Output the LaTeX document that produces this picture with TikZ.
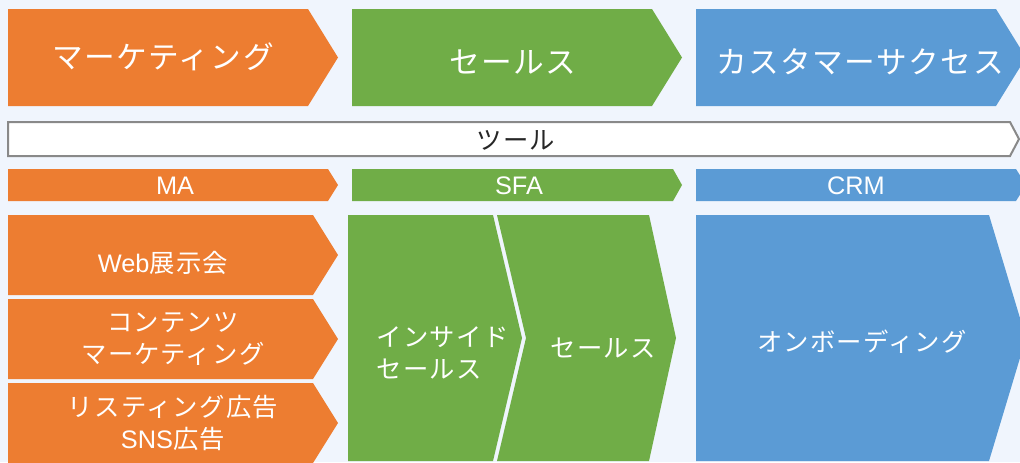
\documentclass[tikz,border=0pt]{standalone}
\usepackage{fontspec}
\setmainfont[LetterSpace=5]{Noto Sans CJK JP}
\newfontfamily\latinfont{Liberation Sans}
\usepackage{xcolor}
\usepackage{tikz}
\definecolor{mkorange}{HTML}{ED7D31}
\definecolor{slgreen}{HTML}{70AD47}
\definecolor{csblue}{HTML}{5B9BD5}
\definecolor{bgblue}{HTML}{F0F5FD}
\definecolor{toolgray}{HTML}{898989}
\definecolor{tooltext}{HTML}{262626}

\begin{document}
\begin{tikzpicture}[x=0.75pt,y=-0.75pt,
    bigtext/.style={white, font=\fontsize{23}{28}\selectfont},
    midtext/.style={white, font=\fontsize{19}{24}\selectfont, align=center}]
                \fill [bgblue] (0,0) rectangle (1020,462);
                \useasboundingbox (0,0) rectangle (1020,462);
                % top row
                \fill [mkorange] (8,9) -- (308,9) -- (338,57.5) -- (308,106) -- (8,106) -- cycle;
                \fill [slgreen] (352,9) -- (652,9) -- (682,57.5) -- (652,106) -- (352,106) -- cycle;
                \fill [csblue] (696,9) -- (996,9) -- (1026,57.5) -- (996,106) -- (696,106) -- cycle;
                \node (mkt) [bigtext] at (163,57) {マーケティング};
                \node (sales) [bigtext] at (513,62) {セールス};
                \node (cs) [bigtext] at (860,62) {カスタマーサクセス};
                % tool bar
                \draw [toolgray, fill=white, line width=1.5pt] (8,122) -- (1010,122) -- (1019,139) -- (1010,156) -- (8,156) -- cycle;
                \node (tool) [midtext, tooltext] at (516,140) {ツール};
                % tool names
                \fill [mkorange] (8,169) -- (328,169) -- (338,185) -- (328,201) -- (8,201) -- cycle;
                \fill [slgreen] (352,169) -- (673,169) -- (682,185) -- (673,201) -- (352,201) -- cycle;
                \fill [csblue] (696,169) -- (1016,169) -- (1026,185) -- (1016,201) -- (696,201) -- cycle;
                \node (ma) [midtext] at (175,186) {\latinfont MA};
                \node (sfa) [midtext] at (519,186) {\latinfont SFA};
                \node (crm) [midtext] at (856,186) {\latinfont CRM};
                % marketing channels
                \fill [mkorange] (8,215) -- (313,215) -- (338,255) -- (313,295) -- (8,295) -- cycle;
                \fill [mkorange] (8,299) -- (313,299) -- (338,339) -- (313,379) -- (8,379) -- cycle;
                \fill [mkorange] (8,383) -- (313,383) -- (338,423) -- (313,463) -- (8,463) -- cycle;
                \node (web) [midtext] at (163,263) {{\latinfont Web}展示会};
                \node (content) [midtext] at (173,339) {コンテンツ\\マーケティング};
                \node (ads) [midtext] at (173,422.5) {リスティング広告\\{\latinfont SNS}広告};
                % sales steps
                \fill [slgreen] (348,215) -- (493,215) -- (522,338) -- (493,461) -- (348,461) -- cycle;
                \fill [slgreen] (497,215) -- (649,215) -- (676,338) -- (649,461) -- (497,461) -- (526,338) -- cycle;
                \node (inside) [midtext, align=left, anchor=west] at (372,352.5) {インサイド\\セールス};
                \node (field) [midtext] at (603,348) {セールス};
                % customer success
                \fill [csblue] (696,215) -- (989,215) -- (1026,338) -- (989,461) -- (696,461) -- cycle;
                \node (onboard) [midtext] at (862,342) {オンボーディング};
            \end{tikzpicture}
\end{document}
